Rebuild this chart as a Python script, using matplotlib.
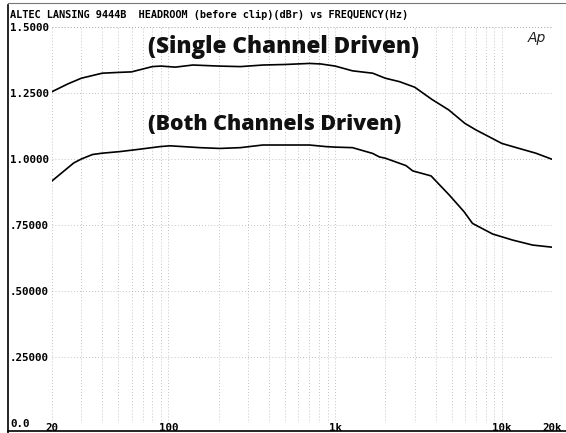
import matplotlib
matplotlib.use("Agg")
import matplotlib.pyplot as plt
from matplotlib.lines import Line2D
from matplotlib.font_manager import FontProperties
from matplotlib.ticker import FixedLocator, NullFormatter, LogLocator

# ---- data ----
title_text = "ALTEC LANSING 9444B  HEADROOM (before clip)(dBr) vs FREQUENCY(Hz)"

single_freq = [20, 25, 30, 40, 50, 60, 80, 90, 110, 140, 200, 270, 370, 500, 700,
               820, 1000, 1270, 1680, 2000, 2430, 3000, 3800, 4800, 6000, 7000,
               8400, 10000, 12700, 16000, 20000]
single_val = [1.255, 1.285, 1.306, 1.325, 1.328, 1.330, 1.350, 1.352, 1.348, 1.356,
              1.352, 1.350, 1.356, 1.358, 1.362, 1.360, 1.352, 1.334, 1.325, 1.306,
              1.293, 1.272, 1.226, 1.186, 1.135, 1.110, 1.084, 1.059, 1.040, 1.022,
              0.999]

both_freq = [20, 27, 30, 35, 40, 51, 67, 89, 102, 154, 203, 270, 368, 500, 700, 880,
             1000, 1270, 1680, 1840, 2000, 2660, 2920, 3760, 4830, 5940, 6670, 8800,
             11600, 15300, 20000]
both_val = [0.917, 0.985, 1.000, 1.017, 1.022, 1.028, 1.037, 1.047, 1.050, 1.043,
            1.040, 1.043, 1.053, 1.053, 1.053, 1.047, 1.045, 1.043, 1.021, 1.008,
            1.003, 0.975, 0.955, 0.936, 0.864, 0.800, 0.756, 0.716, 0.693, 0.674,
            0.666]

y_ticks = [0.0, 0.25, 0.5, 0.75, 1.0, 1.25, 1.5]
y_tick_labels = ["0.0", ".25000", ".50000", ".75000", "1.0000", "1.2500", "1.5000"]
x_ticks = [20, 100, 1000, 10000, 20000]
x_tick_labels = ["20", "100", "1k", "10k", "20k"]

label_single = "(Single Channel Driven)"
label_both = "(Both Channels Driven)"

# ---- figure ----
W, H = 566, 433
fig = plt.figure(figsize=(W / 100, H / 100), dpi=100)
fig.patch.set_facecolor("white")

left_px, right_px, top_px, bottom_px = 52, 552, 27, 423
ax = fig.add_axes([left_px / W, 1 - bottom_px / H,
                   (right_px - left_px) / W, (bottom_px - top_px) / H])
ax.set_xscale("log")
ax.set_xlim(20, 20000)
ax.set_ylim(0, 1.5)

for s in ax.spines.values():
    s.set_visible(False)

grid_style = dict(linestyle=(0, (1, 3)), color="#a0a0a0", linewidth=0.55)
ax.xaxis.set_major_locator(FixedLocator(x_ticks))
ax.xaxis.set_minor_locator(LogLocator(base=10, subs=range(2, 10), numticks=20))
ax.xaxis.set_minor_formatter(NullFormatter())
ax.set_xticklabels(x_tick_labels)
ax.set_yticks(y_ticks)
ax.set_yticklabels(y_tick_labels)
ax.grid(True, which="both", axis="x", **grid_style)
ax.grid(True, which="major", axis="y", **grid_style)
ax.tick_params(which="both", length=0)
mono_fp = FontProperties(family="DejaVu Sans Mono", weight="bold", size=7.8)
for lab in ax.get_yticklabels():
    lab.set_fontproperties(mono_fp)
    lab.set_horizontalalignment("left")
ax.tick_params(axis="y", pad=(left_px - 10) * 0.72)
for lab in ax.get_xticklabels():
    lab.set_fontproperties(mono_fp)
ax.tick_params(axis="x", pad=0)

ax.axhline(1.5, **grid_style)
ax.axvline(20000, **grid_style)

# curves
ax.plot(single_freq, single_val, color="black", linewidth=1.2)
ax.plot(both_freq, both_val, color="black", linewidth=1.2)

# annotations
x_left = (148 - left_px) / (right_px - left_px)
ax.text(x_left, 1.424, label_single, transform=ax.get_yaxis_transform(),
        ha="left", va="center", fontsize=16.2, fontweight="heavy", family="Open Sans",
        color="#111111")
ax.text(x_left, 1.129, label_both, transform=ax.get_yaxis_transform(),
        ha="left", va="center", fontsize=15.4, fontweight="heavy", family="Open Sans",
        color="#111111")

fig.text(537 / W, 1 - 38 / H, "Ap", ha="center", va="center", fontsize=10,
         style="italic", family="DejaVu Sans", color="#222222")

fig.text(10 / W, 1 - 15 / H, title_text, ha="left", va="center",
         fontproperties=FontProperties(family="DejaVu Sans Mono", weight="bold", size=7.4))

# outer frame lines
fig.add_artist(Line2D([8 / W, 8 / W], [0, 1 - 5 / H], color="black", linewidth=1.2,
                      transform=fig.transFigure))
fig.add_artist(Line2D([8 / W, 1], [1 - 431 / H, 1 - 431 / H], color="black",
                      linewidth=1.2, transform=fig.transFigure))
fig.add_artist(Line2D([8 / W, 1], [1 - 3 / H, 1 - 3 / H], color="#777777",
                      linewidth=0.8, transform=fig.transFigure))

fig.savefig("out.png", dpi=100, facecolor="white")
